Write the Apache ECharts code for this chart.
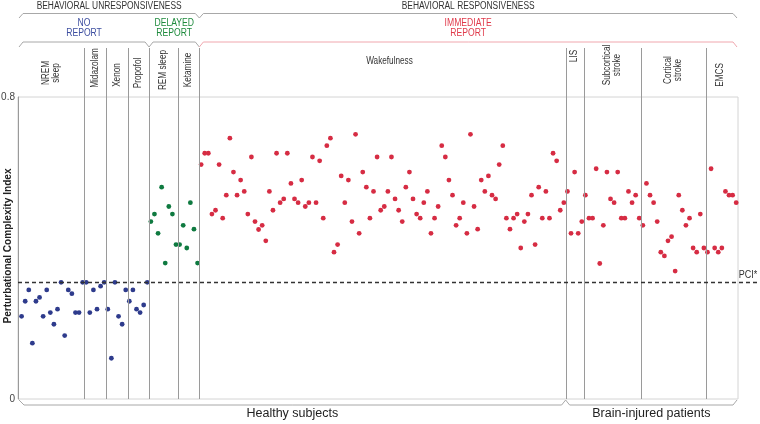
<!DOCTYPE html>
<html><head><meta charset="utf-8">
<script src="https://cdn.jsdelivr.net/npm/echarts@6.0.0/dist/echarts.min.js"></script>
<style>html,body{margin:0;padding:0;background:#fff}#c{width:760px;height:424px}</style>
</head><body><div id="c"></div>
<script>
// ---- data (PCI value per subject, left to right) ----
const nremSleep   = [0.219,0.259,0.289,0.148,0.259,0.269,0.219,0.289,0.229,0.198,0.238,0.309,0.168,0.289,0.279,0.229,0.229,0.309];
const midazolam   = [0.309,0.229,0.289,0.238,0.299,0.309];
const xenon       = [0.238,0.108,0.309,0.219,0.198,0.289];
const propofol    = [0.259,0.289,0.238,0.229,0.249,0.309];
const remSleep    = [0.470,0.490,0.439,0.561,0.360,0.510,0.490,0.409];
const ketamine    = [0.409,0.460,0.400,0.520,0.450,0.360];
const wakefulness = [
  0.621,0.651,0.651,0.490,0.500,0.621,0.479,0.540,0.691,0.601,
  0.540,0.580,0.550,0.490,0.641,0.470,0.449,0.460,0.419,0.550,
  0.500,0.651,0.520,0.530,0.651,0.571,0.530,0.520,0.580,0.510,
  0.520,0.641,0.520,0.631,0.479,0.671,0.691,0.389,0.409,0.591,
  0.520,0.580,0.470,0.701,0.439,0.601,0.561,0.479,0.550,0.641,
  0.500,0.510,0.550,0.641,0.530,0.500,0.470,0.561,0.601,0.530,
  0.490,0.479,0.520,0.550,0.439,0.479,0.510,0.671,0.641,0.580,
  0.540,0.460,0.479,0.520,0.439,0.701,0.510,0.450,0.580,0.550,
  0.591,0.540,0.530,0.621,0.671,0.479,0.450,0.479,0.490,0.400,
  0.470,0.490,0.540,0.409,0.561,0.479,0.550,0.479,0.651,0.631,
  0.500,0.520];
const lis         = [0.550,0.439,0.601,0.439,0.470];
const subcortical = [0.540,0.479,0.479,0.610,0.359,0.460,0.601,0.530,0.520,0.601,0.479,0.479,0.550,0.520,0.540,0.479];
const cortical    = [0.460,0.571,0.540,0.520,0.470,0.389,0.379,0.419,0.430,0.339,0.540,0.500,0.460,0.479,0.400,0.389,0.490,0.400];
const emcs        = [0.389,0.610,0.400,0.389,0.400,0.550,0.540,0.540,0.520];
const pciStar = 0.31;
const yTicks = [0, 0.8];
const yTitle = 'Perturbational Complexity Index';

const groupLabels = ['NREM\nsleep','Midazolam','Xenon','Propofol','REM sleep','Ketamine','Wakefulness','LIS','Subcortical\nstroke','Cortical\nstroke','EMCS'];
const groupValues = [nremSleep, midazolam, xenon, propofol, remSleep, ketamine, wakefulness, lis, subcortical, cortical, emcs];
const groupKinds  = ['no','no','no','no','delayed','delayed','immediate','immediate','immediate','immediate','immediate'];

// ---- styles ----
const colors = {no:'#2e3b8c', delayed:'#0f7a40', immediate:'#d62c43'};
const headColors = {no:'#3d4ea0', delayed:'#1d8a3c', immediate:'#e03a4b'};
const FONT = '"Liberation Sans", Arial, sans-serif';
// label layout: [center y, rotated?, x offset]
const labelLayout = [[73,true,0],[68,true,0],[75,true,0],[73,true,0],[70,true,0],[70,true,0],[61,false,7],[56,true,0],[65,true,0],[70,true,0],[75,true,-2]];

let idx = 0;
const series = {no:[], delayed:[], immediate:[]};
const bounds = [];
groupValues.forEach((vals, g) => {
  const start = idx === 0 ? 0 : idx + 0.5;
  vals.forEach(v => { idx++; series[groupKinds[g]].push([idx, v]); });
  bounds.push([start, idx + 0.5]);
});
const xMax = idx + 0.5;

const chart = echarts.init(document.getElementById('c'), null, {renderer:'canvas'});
const mk = (kind) => ({
  type:'scatter', data: series[kind], symbolSize: 4.8,
  itemStyle:{color: colors[kind], opacity:1}, silent:true, z:5
});
chart.setOption({
  animation:false,
  grid:{left:18, right:22, top:97, bottom:25, show:true, borderColor:'#d4d4d4', borderWidth:1,
        containLabel:false, outerBoundsMode:'none'},
  xAxis:{type:'value', min:0, max:xMax, show:false},
  yAxis:{type:'value', min:yTicks[0], max:yTicks[1], interval:yTicks[1]-yTicks[0],
    axisLine:{show:true, lineStyle:{color:'#9a9a9a', width:1}},
    axisTick:{show:false}, splitLine:{show:false},
    axisLabel:{fontSize:10, color:'#444', margin:3, fontFamily:FONT}
  },
  series:[mk('no'), mk('delayed'), mk('immediate')]
});

const px = (x) => chart.convertToPixel({gridIndex:0}, [x, 0])[0];
const py = (y) => chart.convertToPixel({gridIndex:0}, [0, y])[1];
const L = px(0) + 1, R = px(xMax) - 1, B = py(0), T = py(yTicks[1]);
const gfx = [];
const line = (pts, stroke, w, dash) => gfx.push({type:'polyline', silent:true, z:10,
  shape:{points:pts}, style:{stroke, lineWidth:w||1, fill:null, lineDash:dash||null}});
const text = (t, x, y, o) => gfx.push(Object.assign({type:'text', silent:true, z:11, x, y,
  style:Object.assign({text:t, fontSize:10, fontFamily:FONT, fill:'#333', align:'center', verticalAlign:'middle', lineHeight:10.5}, o.style||{})}, o.el||{}));

// y axis title
text(yTitle, 8, (T + B) / 2 - 2, {style:{fontSize:11, fontWeight:'bold', fill:'#222'}, el:{rotation:Math.PI/2, scaleX:0.92}});

// group dividers
bounds.slice(0, -1).forEach(b => { const x = Math.round(px(b[1])) + 0.5; line([[x,48],[x,B]], '#9a9a9a', 1); });
// PCI* line
const yp = Math.round(py(pciStar)) + 0.5;
line([[px(0), yp],[757, yp]], '#333', 1.3, [4,3]);
text('PCI*', 748, yp - 7, {style:{fontSize:10}, el:{scaleX:0.9}});

// column labels
groupLabels.forEach((lab, g) => {
  const cx = (px(bounds[g][0]) + px(bounds[g][1])) / 2 + labelLayout[g][2];
  const rot = labelLayout[g][1];
  text(lab, cx, labelLayout[g][0], {el:{rotation: rot ? Math.PI/2 : 0, scaleX:0.82, scaleY:1}});
});

// header brackets
const nUnresp = px(bounds[5][1]);       // behavioral unresponsiveness | responsiveness
const nNoRep = px(bounds[3][1]);        // no report | delayed
const nHealthy = px(bounds[6][1]);      // healthy | brain-injured
const g1 = '#a8a8a8';
line([[L,18],[L+4,13.5],[nUnresp-4,13.5],[nUnresp,18],[nUnresp+4,13.5],[R-4,13.5],[R,18]], g1, 1);
line([[L,47],[L+4,42],[nNoRep-4,42],[nNoRep,47],[nNoRep+4,42],[nUnresp-4,42],[nUnresp,47]], g1, 1);
line([[nUnresp,47],[nUnresp+4,42],[R-4,42],[R,47]], '#f0a7ae', 1);
line([[L,400],[L+5,405],[nHealthy-4,405],[nHealthy,400],[nHealthy+4,405],[R-4,405],[R,400]], g1, 1);

text('BEHAVIORAL UNRESPONSIVENESS', (L + nUnresp)/2, 6.5, {el:{scaleX:0.84}});
text('BEHAVIORAL RESPONSIVENESS', (nUnresp + R)/2, 6.5, {el:{scaleX:0.84}});
text('NO\nREPORT', (L + nNoRep)/2, 28, {style:{fill:headColors.no}, el:{scaleX:0.86}});
text('DELAYED\nREPORT', (nNoRep + nUnresp)/2, 28, {style:{fill:headColors.delayed}, el:{scaleX:0.86}});
text('IMMEDIATE\nREPORT', (nUnresp + R)/2, 28, {style:{fill:headColors.immediate}, el:{scaleX:0.86}});
text('Healthy subjects', (L + nHealthy)/2, 414, {style:{fontSize:12.5, fill:'#222'}});
text('Brain-injured patients', (nHealthy + R)/2, 414, {style:{fontSize:12.5, fill:'#222'}});

chart.setOption({graphic:{elements:gfx}});
</script></body></html>
